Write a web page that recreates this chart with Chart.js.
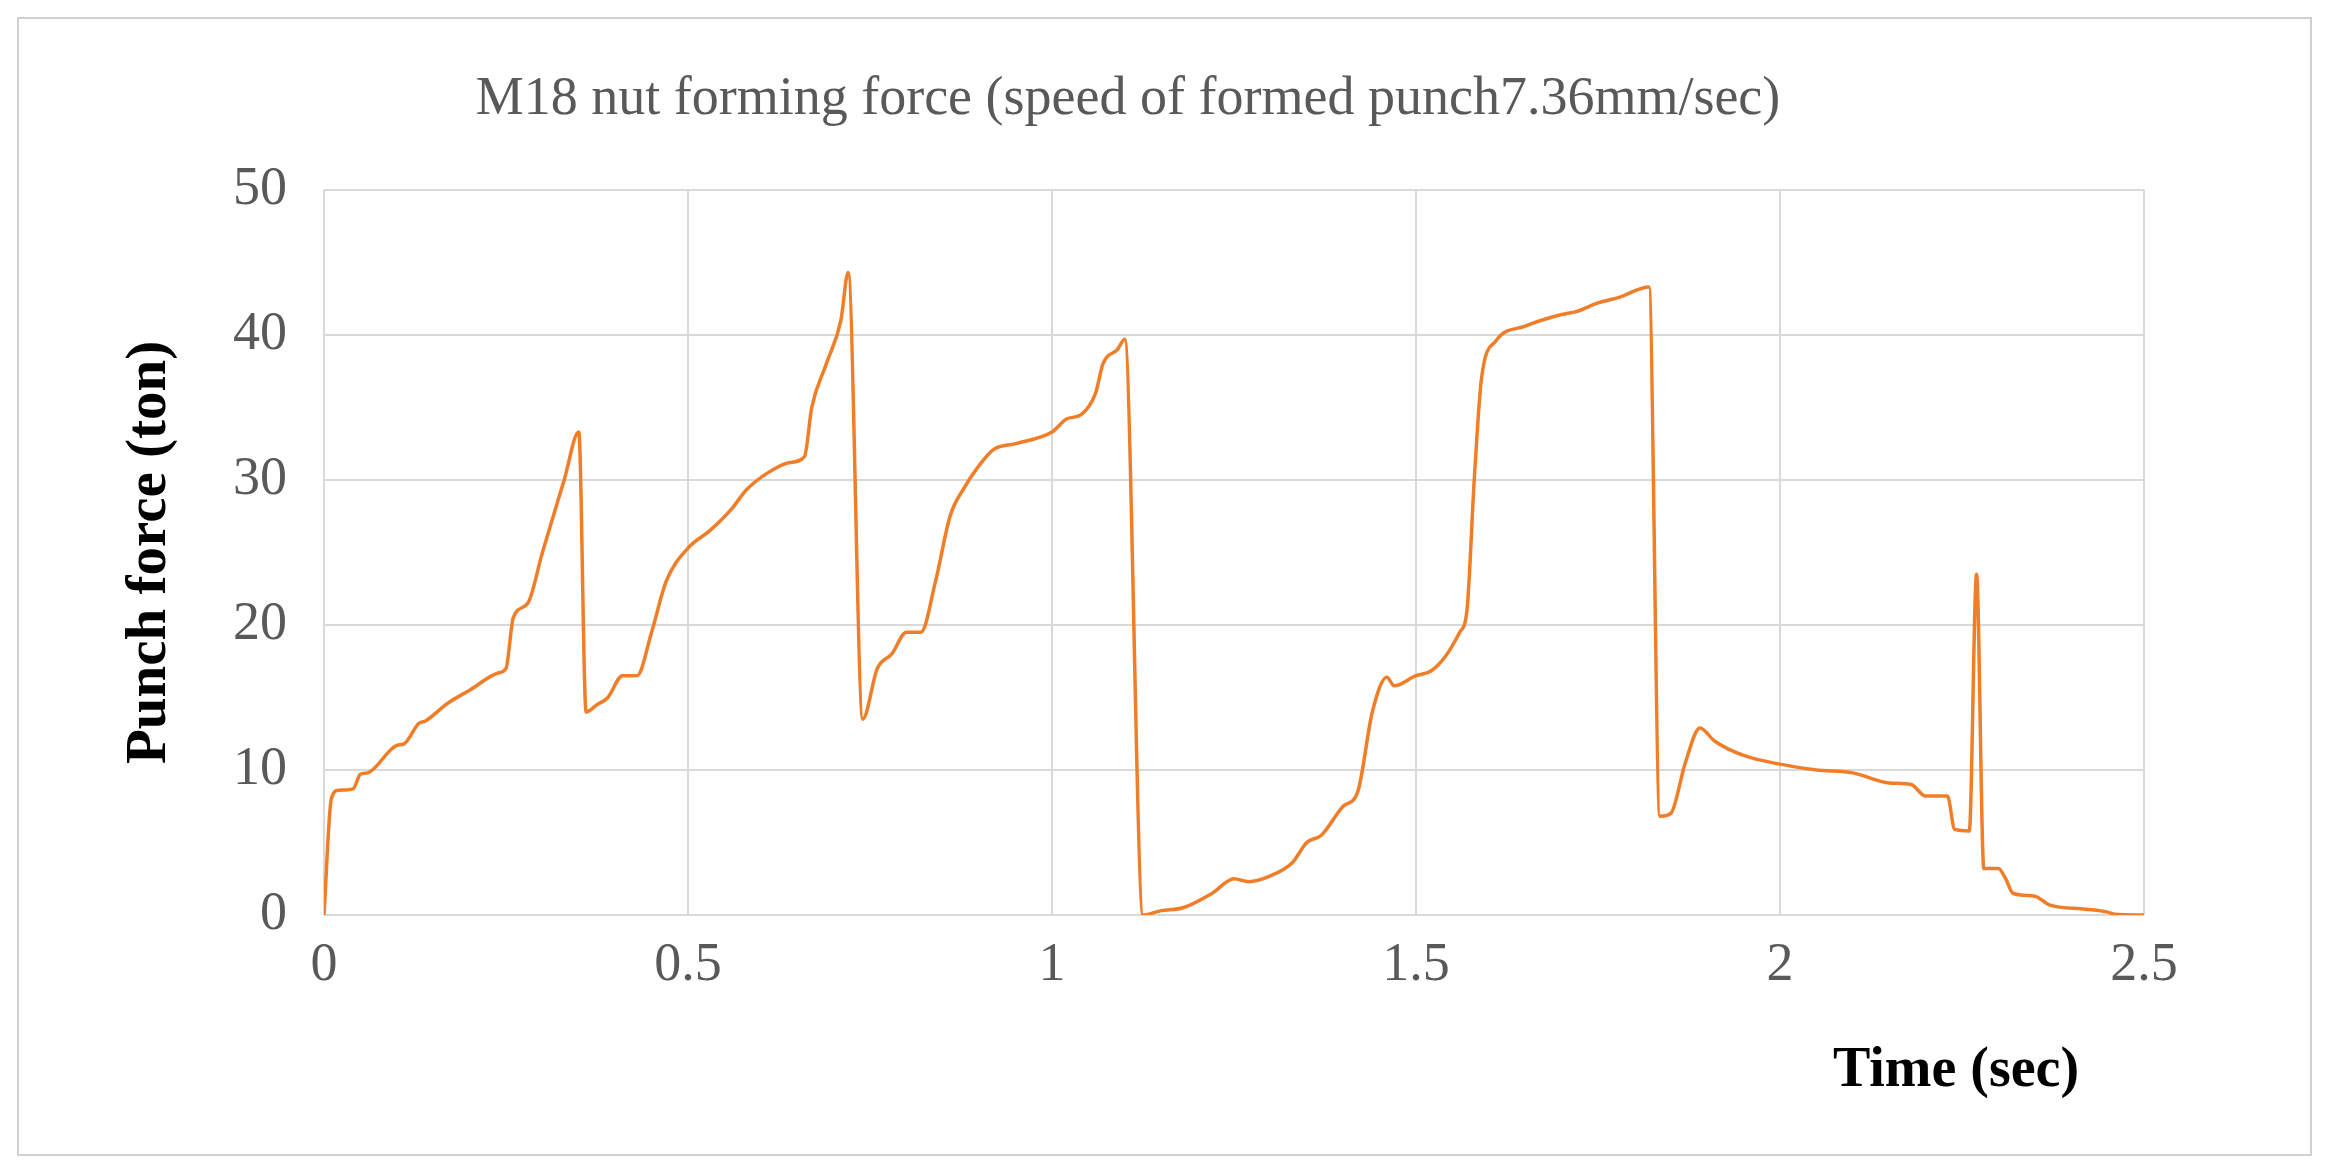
<!DOCTYPE html>
<html><head><meta charset="utf-8">
<script src="https://cdn.jsdelivr.net/npm/chart.js@4"></script>
<style>html,body{margin:0;padding:0;background:#fff}</style>
</head><body>
<canvas id="c" width="2330" height="1176" style="width:2330px;height:1176px"></canvas>
<script>
const timeSec=[0,0.01,0.02,0.04,0.05,0.06,0.1,0.11,0.13,0.14,0.17,0.2,0.24,0.25,0.26,0.28,0.3,0.33,0.35,0.36,0.375,0.39,0.41,0.43,0.45,0.47,0.5,0.53,0.56,0.58,0.61,0.64,0.66,0.67,0.69,0.71,0.72,0.74,0.76,0.78,0.8,0.82,0.84,0.86,0.88,0.9,0.92,0.95,1.0,1.02,1.04,1.06,1.07,1.09,1.1,1.125,1.15,1.18,1.22,1.25,1.27,1.3,1.33,1.35,1.37,1.4,1.42,1.44,1.46,1.47,1.5,1.52,1.54,1.56,1.57,1.58,1.59,1.61,1.65,1.7,1.72,1.75,1.78,1.82,1.835,1.85,1.87,1.89,1.91,1.95,2.0,2.05,2.1,2.15,2.18,2.2,2.23,2.24,2.26,2.27,2.28,2.3,2.31,2.32,2.35,2.37,2.42,2.45,2.46,2.5];
const forceTon=[0,8,8.6,8.7,9.7,9.8,11.7,11.8,13.2,13.4,14.6,15.5,16.7,17,20.5,21.5,25,30,33.3,14,14.5,15,16.5,16.5,19.5,23,25.3,26.5,28,29.3,30.5,31.2,31.6,35,38,41,44.3,13.5,17,18,19.5,19.5,23,27.5,29.5,31,32.1,32.5,33.3,34.2,34.5,36,38,39,39.7,0,0.3,0.5,1.5,2.5,2.3,2.7,3.6,5,5.5,7.5,8.5,14,16.4,15.8,16.5,16.8,17.8,19.5,21,30,37,39.6,40.6,41.4,41.6,42.2,42.6,43.3,6.8,7,10.5,12.9,12,11,10.4,10,9.8,9.1,9,8.2,8.2,5.9,5.8,23.5,3.2,3.2,2.5,1.5,1.3,0.7,0.4,0.2,0.05,0];
const xTicks=[0,0.5,1,1.5,2,2.5];
const titleText="M18 nut forming force (speed of formed punch7.36mm/sec)";
const yTitle="Punch force (ton)", xTitle="Time (sec)";

const deco={id:'deco',afterDraw(ch){const c=ch.ctx;c.save();
 c.strokeStyle='#d0d0d0';c.lineWidth=2;c.strokeRect(18,18,2293,1137);
 c.fillStyle='#000';c.font='bold 56px "Liberation Serif"';c.textAlign='center';c.textBaseline='middle';
 c.fillText(xTitle,1956,1072);c.restore();}};

new Chart(document.getElementById('c'),{type:'line',
 data:{datasets:[{data:timeSec.map((t,i)=>({x:t,y:forceTon[i]})),borderColor:'#F07D28',borderWidth:3.5,pointRadius:0,cubicInterpolationMode:'monotone',fill:false}]},
 plugins:[deco],
 options:{responsive:false,animation:false,
  layout:{padding:{left:112,right:186,bottom:0,top:0}},
  plugins:{legend:{display:false},tooltip:{enabled:false},
   title:{display:true,text:titleText,color:'#595959',font:{family:'Liberation Serif',size:54,weight:'normal'},padding:{top:67,bottom:58}}},
  scales:{
   x:{type:'linear',min:0,max:2.5,afterBuildTicks(s){s.ticks=xTicks.map(v=>({value:v}));},
      afterFit(s){s.height=261;},
      grid:{color:'#d9d9d9',lineWidth:2,drawTicks:false},border:{display:false},
      ticks:{color:'#595959',padding:18,font:{family:'Liberation Serif',size:54},maxRotation:0,callback:v=>String(v)}},
   y:{min:0,max:50,afterFit(s){s.width=212;},
      grid:{color:'#d9d9d9',lineWidth:2,drawTicks:false},border:{display:false},
      ticks:{stepSize:10,color:'#595959',padding:37,font:{family:'Liberation Serif',size:54}},
      title:{display:true,text:yTitle,color:'#000',font:{family:'Liberation Serif',size:57,weight:'bold'},padding:{bottom:10}}}
  }}});
</script></body></html>
